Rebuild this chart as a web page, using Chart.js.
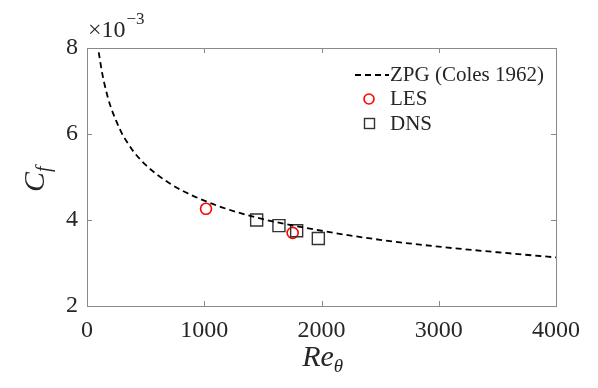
<!DOCTYPE html>
<html>
<head>
<meta charset="utf-8">
<script src="https://cdn.jsdelivr.net/npm/chart.js@4.4.0/dist/chart.umd.min.js"></script>
<style>
body{margin:0;background:#fff;}
#wrap{width:598px;height:388px;}
</style>
</head>
<body>
<div id="wrap"><canvas id="myChart" width="598" height="388"></canvas></div>
<script>
// Cf values in units of 1e-3
const zpgRe = [100,125,150,175,200,250,300,350,400,500,600,700,800,1000,1200,1500,2000,2500,3000,3500,4000];
const zpgCf = [7.9,7.48,7.15,6.88,6.65,6.3,6.0,5.78,5.58,5.28,5.05,4.86,4.7,4.45,4.25,4.02,3.75,3.54,3.38,3.25,3.13];
const lesRe = [1015,1754];
const lesCf = [4.26,3.70];
const dnsRe = [1447,1637,1788,1973];
const dnsCf = [4.00,3.87,3.75,3.57];
const xTicks = [0,1000,2000,3000,4000];
const yTicks = [2,4,6,8];

const serif = "'Liberation Serif','DejaVu Serif',serif";

function pts(xs,ys){
    return xs.map(function(x,i){ return {x:x,y:ys[i]}; });
}

// box, inward ticks, titles, exponent and legend (matlab style)
const decor = {
    id:"decor",
    afterDraw(chart){
        const ctx = chart.ctx;
        const a = chart.chartArea;
        const xs = chart.scales.x, ys = chart.scales.y;
        ctx.save();
        ctx.strokeStyle = "#8a8a8a";
        ctx.lineWidth = 1;
        ctx.strokeRect(a.left+0.5, a.top+0.5, a.right-a.left, a.bottom-a.top);
        xTicks.forEach(function(v){
            const p = Math.round(xs.getPixelForValue(v))+0.5;
            ctx.beginPath();
            ctx.moveTo(p,a.bottom); ctx.lineTo(p,a.bottom-5);
            ctx.moveTo(p,a.top); ctx.lineTo(p,a.top+5);
            ctx.stroke();
        });
        yTicks.forEach(function(v){
            const p = Math.round(ys.getPixelForValue(v))+0.5;
            ctx.beginPath();
            ctx.moveTo(a.left,p); ctx.lineTo(a.left+5,p);
            ctx.moveTo(a.right,p); ctx.lineTo(a.right-5,p);
            ctx.stroke();
        });

        ctx.fillStyle = "#262626";
        // x title
        ctx.textBaseline = "alphabetic";
        ctx.textAlign = "left";
        ctx.font = "italic 30px " + serif;
        const wR = ctx.measureText("Re").width;
        const sx = 322 - (wR+8)/2;
        ctx.fillText("Re", sx, 366);
        ctx.font = "italic 19px " + serif;
        ctx.fillText("\u03b8", sx+wR, 372);

        // y title
        ctx.save();
        ctx.translate(44,178);
        ctx.rotate(-Math.PI/2);
        ctx.font = "italic 30px " + serif;
        const wC = ctx.measureText("C").width;
        ctx.fillText("C", -(wC+8)/2, 0);
        ctx.font = "italic 20px " + serif;
        ctx.fillText("f", -(wC+8)/2+wC, 6);
        ctx.restore();

        // exponent
        ctx.font = "24px " + serif;
        ctx.fillText("\u00d710", 88, 37);
        const w10 = ctx.measureText("\u00d710").width;
        ctx.font = "17px " + serif;
        ctx.fillText("\u22123", 88+w10+1, 24);

        // legend
        ctx.font = "21px " + serif;
        ctx.textBaseline = "middle";
        ctx.strokeStyle = "#000";
        ctx.lineWidth = 1.8;
        ctx.setLineDash([6,4]);
        ctx.beginPath(); ctx.moveTo(355,75); ctx.lineTo(389,75); ctx.stroke();
        ctx.setLineDash([]);
        ctx.fillText("ZPG (Coles 1962)", 390, 75);
        ctx.strokeStyle = "#ff0000";
        ctx.lineWidth = 1.6;
        ctx.beginPath(); ctx.arc(369,99,5,0,Math.PI*2); ctx.stroke();
        ctx.fillText("LES", 390, 99);
        ctx.strokeStyle = "#333";
        ctx.lineWidth = 1.4;
        ctx.strokeRect(364.5,118.5,10,10);
        ctx.fillText("DNS", 390, 124);
        ctx.restore();
    }
};

const ctx = document.getElementById("myChart").getContext("2d");
const myChart = new Chart(ctx, {
    type: "scatter",
    data: {
        datasets: [
            {
                label: "ZPG (Coles 1962)",
                data: pts(zpgRe,zpgCf),
                showLine: true,
                borderColor: "#000",
                borderWidth: 1.8,
                borderDash: [6,4],
                pointRadius: 0,
                cubicInterpolationMode: "monotone",
                fill: false
            },
            {
                label: "DNS",
                data: pts(dnsRe,dnsCf),
                pointStyle: "rect",
                pointRadius: 8.5,
                borderColor: "#333",
                borderWidth: 1.4,
                backgroundColor: "rgba(0,0,0,0)"
            },
            {
                label: "LES",
                data: pts(lesRe,lesCf),
                pointStyle: "circle",
                pointRadius: 5.5,
                borderColor: "#ff0000",
                borderWidth: 1.6,
                backgroundColor: "rgba(0,0,0,0)"
            }
        ]
    },
    options: {
        responsive: false,
        animation: false,
        layout: { padding: { top: 48, right: 42, left: 0, bottom: 0 } },
        plugins: { legend: { display: false }, tooltip: { enabled: false } },
        scales: {
            x: {
                type: "linear",
                min: 0, max: 4000,
                afterBuildTicks(s){ s.ticks = xTicks.map(function(v){ return {value:v}; }); },
                afterFit(s){ s.height = 82; },
                grid: { display: false, drawTicks: false },
                border: { display: false },
                ticks: { color: "#262626", padding: 10, maxRotation: 0, font: { family: serif, size: 24 },
                    callback: function(v){ return String(v); } }
            },
            y: {
                type: "linear",
                min: 2, max: 8,
                afterBuildTicks(s){ s.ticks = yTicks.map(function(v){ return {value:v}; }); },
                afterFit(s){ s.width = 87; },
                grid: { display: false, drawTicks: false },
                border: { display: false },
                ticks: { color: "#262626", padding: 9, font: { family: serif, size: 24 } }
            }
        }
    },
    plugins: [decor]
});
</script>
</body>
</html>
